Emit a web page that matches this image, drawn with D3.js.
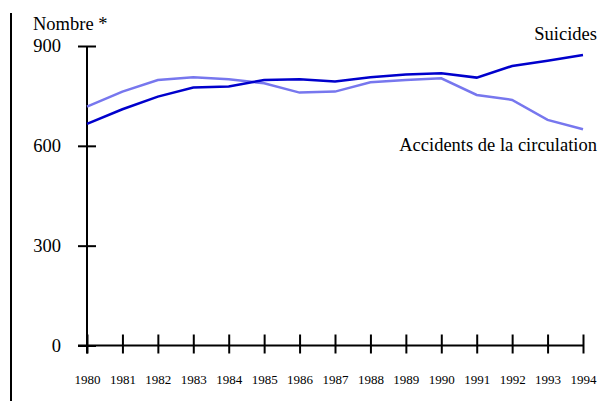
<!DOCTYPE html>
<html>
<head>
<meta charset="utf-8">
<script src="https://cdn.jsdelivr.net/npm/d3@7"></script>
<style>
  body { margin: 0; background: #fff; }
  svg text { font-family: "Liberation Serif", "Times New Roman", serif; }
</style>
</head>
<body>
<div id="chart"></div>
<script>
// données
const years = [1980, 1981, 1982, 1983, 1984, 1985, 1986, 1987, 1988, 1989, 1990, 1991, 1992, 1993, 1994];
const suicides = [666, 710, 748, 775, 778, 798, 800, 793, 806, 814, 818, 805, 840, 856, 873];
const accidents = [718, 763, 798, 806, 800, 788, 760, 763, 791, 798, 803, 753, 738, 678, 650];
const yTicks = [0, 300, 600, 900];

const width = 605;
const height = 401;
const serif = '"Liberation Serif", "Times New Roman", serif';

const svg = d3.select('#chart')
  .append('svg')
  .attr('width', width)
  .attr('height', height);

const x = d3.scaleLinear().domain([1980, 1994]).range([87, 583]);
const y = d3.scaleLinear().domain([0, 900]).range([345.5, 46]);

// trait vertical à gauche
svg.append('line')
  .attr('x1', 11).attr('x2', 11)
  .attr('y1', 13).attr('y2', height)
  .attr('stroke', '#000')
  .attr('stroke-width', 2);

// axe Y
const yAxis = svg.append('g')
  .attr('transform', `translate(${x(1980)},0)`)
  .call(d3.axisLeft(y).tickValues(yTicks).tickSize(9).tickFormat(d3.format('d')))
  .attr('font-family', serif);
yAxis.select('.domain')
  .attr('d', `M0,${y(900)}V${y(0) + 8}`)
  .attr('stroke-width', 2);
yAxis.selectAll('.tick line')
  .attr('x1', -9).attr('x2', 9)
  .attr('stroke-width', 2);
yAxis.selectAll('.tick text')
  .attr('x', -26)
  .attr('font-size', 18.5)
  .attr('fill', '#000');

// axe X
const xAxis = svg.append('g')
  .attr('transform', `translate(0,${y(0)})`)
  .call(d3.axisBottom(x).tickValues(years).tickSize(8).tickFormat(d3.format('d')))
  .attr('font-family', serif);
xAxis.select('.domain')
  .attr('d', `M${x(1980) - 9},0H${x(1994)}`)
  .attr('stroke-width', 2);
xAxis.selectAll('.tick line')
  .attr('y1', -11).attr('y2', 8)
  .attr('stroke-width', 2);
xAxis.selectAll('.tick text')
  .attr('y', 38)
  .attr('dy', 0)
  .attr('font-size', 13)
  .attr('fill', '#000');

// titre de l'axe
svg.append('text')
  .attr('x', 33)
  .attr('y', 30)
  .attr('font-size', 18.5)
  .text('Nombre *');

// courbes
const line = d3.line()
  .x((d, i) => x(years[i]))
  .y((d) => y(d));

svg.append('path')
  .datum(accidents)
  .attr('fill', 'none')
  .attr('stroke', '#7777ee')
  .attr('stroke-width', 2.5)
  .attr('d', line);

svg.append('path')
  .datum(suicides)
  .attr('fill', 'none')
  .attr('stroke', '#0000cc')
  .attr('stroke-width', 2.5)
  .attr('d', line);

// étiquettes des séries
svg.append('text')
  .attr('x', 597)
  .attr('y', 40)
  .attr('text-anchor', 'end')
  .attr('font-size', 18.5)
  .text('Suicides');

svg.append('text')
  .attr('x', 597)
  .attr('y', 151)
  .attr('text-anchor', 'end')
  .attr('font-size', 18.5)
  .text('Accidents de la circulation');
</script>
</body>
</html>
